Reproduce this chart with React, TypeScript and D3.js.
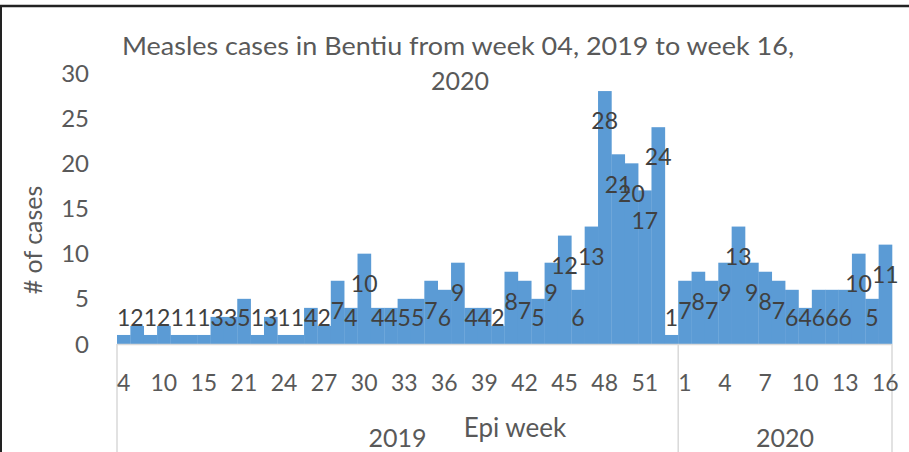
import React, { useRef, useEffect } from "react";
import * as d3 from "d3";

// weeks of 2019 (only every third label is shown on the axis)
const weeks2019 = [
  "4", "6", "8", "10", "12", "13", "15", "17", "19", "21", "22", "23", "24", "25",
  "26", "27", "28", "29", "30", "31", "32", "33", "34", "35", "36", "37", "38",
  "39", "40", "41", "42", "43", "44", "45", "46", "47", "48", "49", "50", "51",
  "52", "53",
];
const cases2019 = [
  1, 2, 1, 2, 1, 1, 1, 3, 3, 5, 1, 3, 1, 1, 4, 2, 7, 4, 10, 4, 4, 5, 5, 7, 6, 9,
  4, 4, 2, 8, 7, 5, 9, 12, 6, 13, 28, 21, 20, 17, 24, 1,
];
const weeks2020 = ["1", "2", "3", "4", "5", "6", "7", "8", "9", "10", "11", "12", "13", "14", "15", "16"];
const cases2020 = [7, 8, 7, 9, 13, 9, 8, 7, 6, 4, 6, 6, 6, 10, 5, 11];
const yTicks = [0, 5, 10, 15, 20, 25, 30];

const W = 909;
const H = 452;
const FONT = "Lato, 'Open Sans', sans-serif";
const TXT = "#595959";

export default function App() {
  const svgRef = useRef<SVGSVGElement>(null);

  useEffect(() => {
    const svg = d3.select(svgRef.current);
    svg.selectAll("*").remove();

    const rows = [
      ...weeks2019.map((w, i) => ({ key: `2019-${w}`, week: w, year: "2019", idx: i, value: cases2019[i] })),
      ...weeks2020.map((w, i) => ({ key: `2020-${w}`, week: w, year: "2020", idx: i, value: cases2020[i] })),
    ];

    const left = 117, right = 892, base = 344, top = 73;
    const x = d3.scaleBand().domain(rows.map(d => d.key)).range([left, right]).padding(0);
    const y = d3.scaleLinear().domain([0, 30]).range([base, top]);

    // frame of the picture (only top and left edge visible)
    svg.append("line").attr("x1", 0).attr("x2", W).attr("y1", 6).attr("y2", 6)
      .attr("stroke", "#222").attr("stroke-width", 2.5);
    svg.append("line").attr("x1", 1).attr("x2", 1).attr("y1", 6).attr("y2", H)
      .attr("stroke", "#222").attr("stroke-width", 2);

    // title
    const title = svg.append("text")
      .attr("text-anchor", "middle")
      .style("font-family", FONT).style("font-size", "25px").style("fill", TXT);
    title.append("tspan").attr("x", 458).attr("y", 55)
      .attr("textLength", 672).attr("lengthAdjust", "spacingAndGlyphs")
      .text("Measles cases in Bentiu from week 04, 2019 to week 16,");
    title.append("tspan").attr("x", 460).attr("y", 90).text("2020");

    // bars
    svg.append("g").selectAll("rect")
      .data(rows)
      .join("rect")
        .attr("x", d => x(d.key)!)
        .attr("width", x.bandwidth() + 0.3)
        .attr("y", d => y(d.value))
        .attr("height", d => base - y(d.value))
        .attr("fill", "#5B9BD5");

    // x axis line and group separators
    svg.append("line").attr("x1", left).attr("x2", right).attr("y1", base + 0.5).attr("y2", base + 0.5)
      .attr("stroke", "#d9d9d9").attr("stroke-width", 1.5);
    const sep = [left, x(`2020-${weeks2020[0]}`)!, right];
    svg.append("g").selectAll("line")
      .data(sep)
      .join("line")
        .attr("x1", d => d).attr("x2", d => d)
        .attr("y1", base).attr("y2", H)
        .attr("stroke", "#d9d9d9").attr("stroke-width", 1.5);

    // y tick labels
    svg.append("g").selectAll("text")
      .data(yTicks)
      .join("text")
        .attr("x", 89)
        .attr("y", d => y(d))
        .attr("dy", "0.36em")
        .attr("text-anchor", "end")
        .style("font-family", FONT).style("font-size", "24px").style("fill", TXT)
        .text(d => d);

    // week labels, every third category
    svg.append("g").selectAll("text")
      .data(rows.filter(d => d.idx % 3 === 0))
      .join("text")
        .attr("x", d => x(d.key)! + x.bandwidth() / 2)
        .attr("y", 383)
        .attr("dy", "0.36em")
        .attr("text-anchor", "middle")
        .style("font-family", FONT).style("font-size", "23px").style("fill", TXT)
        .text(d => d.week);

    // year labels
    const years = [
      { label: "2019", cx: (sep[0] + sep[1]) / 2 },
      { label: "2020", cx: (sep[1] + sep[2]) / 2 },
    ];
    svg.append("g").selectAll("text")
      .data(years)
      .join("text")
        .attr("x", d => d.cx)
        .attr("y", 438)
        .attr("dy", "0.36em")
        .attr("text-anchor", "middle")
        .style("font-family", FONT).style("font-size", "25px").style("fill", TXT)
        .text(d => d.label);

    // axis titles
    svg.append("text")
      .attr("x", 515).attr("y", 428).attr("dy", "0.36em")
      .attr("text-anchor", "middle")
      .style("font-family", FONT).style("font-size", "26px").style("fill", TXT)
      .text("Epi week");
    svg.append("text")
      .attr("transform", "translate(33,240) rotate(-90)")
      .attr("dy", "0.36em")
      .attr("text-anchor", "middle")
      .style("font-family", FONT).style("font-size", "25px").style("fill", TXT)
      .text("# of cases");

    // data labels, inside end but kept above the axis
    svg.append("g").selectAll("text")
      .data(rows)
      .join("text")
        .attr("x", d => x(d.key)! + x.bandwidth() / 2)
        .attr("y", d => Math.min(y(d.value) + 30, 318))
        .attr("dy", "0.36em")
        .attr("text-anchor", "middle")
        .style("font-family", FONT).style("font-size", "23px").style("fill", "#404040")
        .text(d => d.value);
  }, []);

  return (
    <div style={{ position: "absolute", left: 0, top: 0, width: W, height: H, background: "#fff" }}>
      <svg ref={svgRef} width={W} height={H} />
    </div>
  );
}
